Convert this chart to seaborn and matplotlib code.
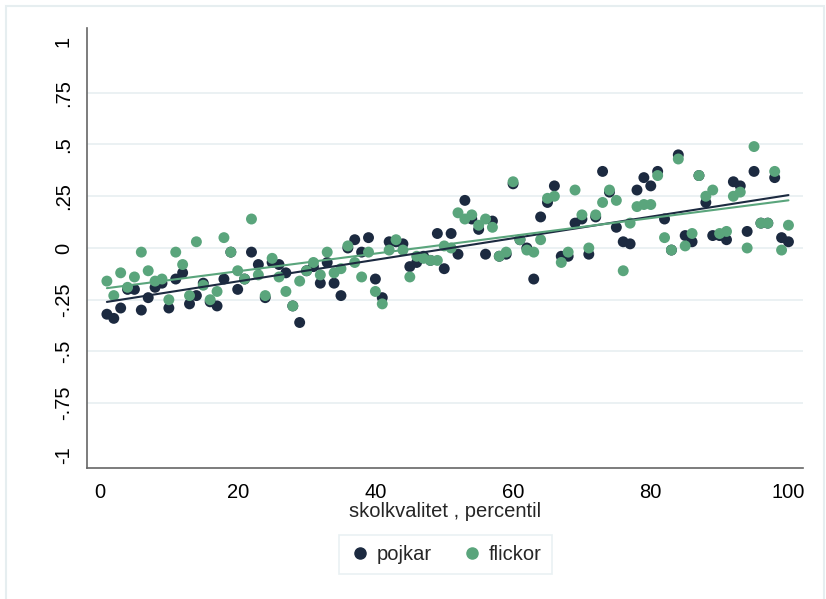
import numpy as np
import pandas as pd
import matplotlib
matplotlib.use("Agg")
import matplotlib.pyplot as plt
import matplotlib.patches as mpatches
import seaborn as sns

percentil = list(range(1, 101))

pojkar = [-0.32, -0.34, -0.29, -0.20, -0.20, -0.30, -0.24, -0.19, -0.17, -0.29,
          -0.15, -0.12, -0.27, -0.23, -0.17, -0.26, -0.28, -0.15, -0.02, -0.20,
          -0.15, -0.02, -0.08, -0.24, -0.07, -0.08, -0.12, -0.28, -0.36, -0.11,
          -0.09, -0.17, -0.07, -0.17, -0.23, 0.00, 0.04, -0.02, 0.05, -0.15,
          -0.24, 0.03, 0.03, 0.02, -0.09, -0.07, -0.04, -0.06, 0.07, -0.10,
          0.07, -0.03, 0.23, 0.14, 0.09, -0.03, 0.13, -0.04, -0.03, 0.31,
          0.04, 0.00, -0.15, 0.15, 0.22, 0.30, -0.04, -0.04, 0.12, 0.14,
          -0.03, 0.15, 0.37, 0.27, 0.10, 0.03, 0.02, 0.28, 0.34, 0.30,
          0.37, 0.14, -0.01, 0.45, 0.06, 0.03, 0.35, 0.22, 0.06, 0.06,
          0.04, 0.32, 0.30, 0.08, 0.37, 0.12, 0.12, 0.34, 0.05, 0.03]

flickor = [-0.16, -0.23, -0.12, -0.19, -0.14, -0.02, -0.11, -0.16, -0.15, -0.25,
           -0.02, -0.08, -0.23, 0.03, -0.18, -0.25, -0.21, 0.05, -0.02, -0.11,
           -0.15, 0.14, -0.13, -0.23, -0.05, -0.14, -0.21, -0.28, -0.16, -0.11,
           -0.07, -0.13, -0.02, -0.12, -0.10, 0.01, -0.07, -0.14, -0.02, -0.21,
           -0.27, -0.01, 0.04, -0.01, -0.14, -0.04, -0.05, -0.06, -0.06, 0.01,
           0.00, 0.17, 0.14, 0.16, 0.11, 0.14, 0.10, -0.04, -0.02, 0.32,
           0.04, -0.01, -0.02, 0.04, 0.24, 0.25, -0.07, -0.02, 0.28, 0.16,
           0.00, 0.16, 0.22, 0.28, 0.23, -0.11, 0.12, 0.20, 0.21, 0.21,
           0.35, 0.05, -0.01, 0.43, 0.01, 0.07, 0.35, 0.25, 0.28, 0.07,
           0.08, 0.25, 0.27, 0.00, 0.49, 0.12, 0.12, 0.37, -0.01, 0.11]

grupper = ["pojkar", "flickor"]
farger = {"pojkar": "#1c2a40", "flickor": "#5aa57c"}
yticks = [-1, -0.75, -0.5, -0.25, 0, 0.25, 0.5, 0.75, 1]
ytick_labels = ["-1", "-.75", "-.5", "-.25", "0", ".25", ".5", ".75", "1"]
xticks = [0, 20, 40, 60, 80, 100]

df = pd.DataFrame({
    "percentil": percentil * 2,
    "varde": pojkar + flickor,
    "kon": ["pojkar"] * len(pojkar) + ["flickor"] * len(flickor),
})

sns.set_style("white")
plt.rcParams["font.family"] = ["Liberation Sans", "DejaVu Sans"]

fig = plt.figure(figsize=(8.26, 5.99), dpi=100)
ax = fig.add_axes([0.105, 0.2187, 0.8668, 0.7346])

# gridlines (inner only)
for v in yticks[1:-1]:
    ax.axhline(v, color="#e8eff1", lw=1.2, zorder=0)

sns.scatterplot(data=df, x="percentil", y="varde", hue="kon", hue_order=grupper,
                palette=farger, s=62, edgecolor="none", linewidth=0, alpha=1,
                ax=ax, zorder=3, legend=False)
for g in grupper:
    sub = df[df["kon"] == g]
    sns.regplot(data=sub, x="percentil", y="varde", scatter=False, ci=None,
                truncate=True, color=farger[g], line_kws={"lw": 1.5, "zorder": 4}, ax=ax)

ax.set_xlim(-1.93, 102.07)
ax.set_ylim(-1.063, 1.063)
ax.set_xticks(xticks)
ax.set_xticklabels([str(t) for t in xticks])
ax.set_yticks(yticks)
ax.set_yticklabels(ytick_labels, rotation=90, va="center")
ax.tick_params(axis="both", direction="out", length=8, width=1, color="#666666",
               labelsize=14.5, labelcolor="black", pad=3)
ax.tick_params(axis="y", pad=2)
for side in ["top", "right"]:
    ax.spines[side].set_visible(False)
for side in ["left", "bottom"]:
    ax.spines[side].set_color("#666666")
    ax.spines[side].set_linewidth(1.2)
ax.set_xlabel("skolkvalitet , percentil", fontsize=14.5, labelpad=0)
ax.set_ylabel("")

handles = [plt.Line2D([], [], marker="o", ls="", color=farger[g], markersize=8) for g in grupper]
leg = fig.legend(handles, grupper, loc="center", bbox_to_anchor=(0.539, 0.075),
                 ncol=2, frameon=True, fancybox=False, fontsize=14.5,
                 handletextpad=0.3, columnspacing=1.4, borderpad=0.5, handlelength=1.1)
leg.get_frame().set_edgecolor("#e4eef0")
leg.get_frame().set_linewidth(1.2)

fig.patches.append(mpatches.Rectangle((6 / 826, -0.02), 818 / 826, (593 / 599) + 0.02,
                                      transform=fig.transFigure, fill=False,
                                      edgecolor="#e6eef0", lw=1.5))

fig.savefig("out.png", dpi=100, facecolor="white")
